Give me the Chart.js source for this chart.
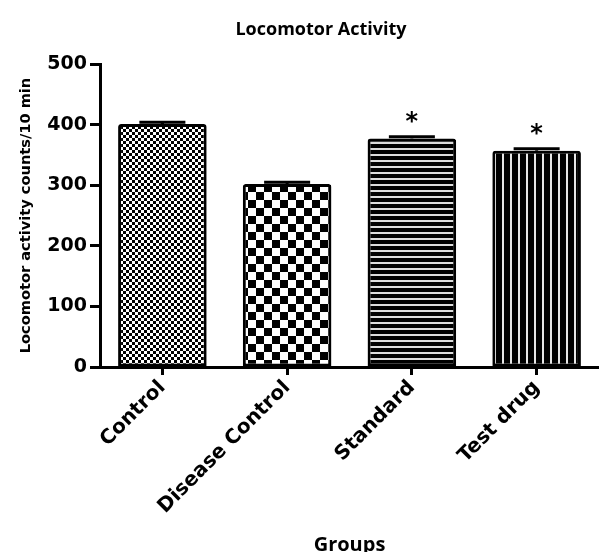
<!DOCTYPE html>
<html>
<head>
<meta charset="utf-8">
<title>Locomotor Activity</title>
<script src="https://cdn.jsdelivr.net/npm/chart.js@4/dist/chart.umd.min.js"></script>
<style>
  html, body { margin: 0; padding: 0; background: #ffffff; }
  #wrap { width: 599px; height: 552px; }
</style>
</head>
<body>
<div id="wrap"><canvas id="chart" width="599" height="552"></canvas></div>
<script>
// Groups and measured locomotor counts (mean ± SEM, counts per 10 min)
const groups = ['Control', 'Disease Control', 'Standard', 'Test drug'];
const meanCounts = [401, 302, 377, 357];
const semCounts = [3, 3, 3, 3];
const significance = ['', '', '*', '*'];
const yTickValues = [0, 100, 200, 300, 400, 500];

// Monochrome fill patterns, one per group
function makePattern(w, h, paint) {
  const tile = document.createElement('canvas');
  tile.width = w; tile.height = h;
  const c = tile.getContext('2d');
  c.fillStyle = '#ffffff';
  c.fillRect(0, 0, w, h);
  c.fillStyle = '#000000';
  paint(c);
  return document.getElementById('chart').getContext('2d').createPattern(tile, 'repeat');
}
const fineChecker = makePattern(6, 6, c => { c.fillRect(0, 0, 3, 3); c.fillRect(3, 3, 3, 3); });
const coarseChecker = makePattern(16, 16, c => { c.fillRect(0, 0, 8, 8); c.fillRect(8, 8, 8, 8); });
const hStripes = makePattern(6, 6, c => { c.fillRect(0, 0, 6, 4); c.fillStyle = '#dcdcdc'; c.fillRect(0, 4, 6, 2); });
const vStripes = makePattern(8, 8, c => { c.fillRect(0, 0, 6, 8); c.fillStyle = '#e6e6e6'; c.fillRect(6, 0, 2, 8); });
const fills = [fineChecker, coarseChecker, hStripes, vStripes];

// Chart heading, drawn above the plot
const headingPlugin = {
  id: 'heading',
  afterDraw(chart) {
    const ctx = chart.ctx;
    ctx.save();
    ctx.fillStyle = '#000000';
    ctx.font = 'bold 18px "Open Sans"';
    ctx.textAlign = 'center';
    ctx.textBaseline = 'middle';
    ctx.fillText('Locomotor Activity', 321, 30);
    ctx.restore();
  }
};

// Upper SEM whisker with a wide cap, plus significance marks above it
const errorBarPlugin = {
  id: 'errorBars',
  afterDatasetsDraw(chart) {
    const ctx = chart.ctx;
    const y = chart.scales.y;
    const meta = chart.getDatasetMeta(0);
    ctx.save();
    ctx.strokeStyle = '#000000';
    ctx.fillStyle = '#000000';
    ctx.lineWidth = 3;
    meta.data.forEach((bar, i) => {
      const yMean = y.getPixelForValue(meanCounts[i]);
      const yTop = y.getPixelForValue(meanCounts[i] + semCounts[i]);
      ctx.beginPath();
      ctx.moveTo(bar.x, yMean);
      ctx.lineTo(bar.x, yTop);
      ctx.moveTo(bar.x - 23, yTop);
      ctx.lineTo(bar.x + 23, yTop);
      ctx.stroke();
      if (significance[i]) {
        ctx.font = 'bold 24px "DejaVu Sans"';
        ctx.textAlign = 'center';
        ctx.textBaseline = 'alphabetic';
        ctx.fillText(significance[i], bar.x, yTop - 8);
      }
    });
    ctx.restore();
  }
};

new Chart(document.getElementById('chart'), {
  type: 'bar',
  data: {
    labels: groups,
    datasets: [{
      data: meanCounts,
      backgroundColor: fills,
      borderColor: '#000000',
      borderWidth: 3,
      borderSkipped: false,
      borderRadius: { topLeft: 3, topRight: 3, bottomLeft: 0, bottomRight: 0 },
      categoryPercentage: 1.0,
      barPercentage: 0.71
    }]
  },
  options: {
    responsive: false,
    animation: false,
    devicePixelRatio: 1,
    layout: { padding: { left: 0, right: 0, top: 64, bottom: 0 } },
    plugins: {
      legend: { display: false },
      tooltip: { enabled: false },
      title: { display: false }
    },
    scales: {
      x: {
        type: 'category',
        offset: true,
        grid: { display: true, drawOnChartArea: false, drawTicks: true, tickLength: 8, tickWidth: 3, tickColor: '#000000', offset: false },
        border: { display: true, color: '#000000', width: 3 },
        ticks: {
          color: '#000000',
          font: { family: '"DejaVu Sans"', weight: 'bold', size: 20 },
          minRotation: 45,
          maxRotation: 45,
          padding: 1,
          autoSkip: false
        },
        title: {
          display: true,
          text: 'Groups',
          color: '#000000',
          font: { family: '"Open Sans"', weight: 'bold', size: 20, lineHeight: 1.0 },
          padding: { top: 0, bottom: -3 }
        },
        afterFit(scale) { scale.height = 185; }
      },
      y: {
        min: 0,
        max: 500,
        afterBuildTicks(scale) { scale.ticks = yTickValues.map(v => ({ value: v })); },
        grid: { display: true, drawOnChartArea: false, drawTicks: true, tickLength: 10, tickWidth: 3, tickColor: '#000000' },
        border: { display: true, color: '#000000', width: 3 },
        ticks: {
          color: '#000000',
          font: { family: '"DejaVu Sans"', weight: 'bold', size: 19 },
          padding: 3
        },
        title: {
          display: true,
          text: 'Locomotor activity counts/10 min',
          color: '#000000',
          font: { family: '"DejaVu Sans"', weight: 'bold', size: 14.6, lineHeight: 1.2 },
          padding: { top: 17, bottom: 0 }
        },
        afterFit(scale) { scale.width = 100; }
      }
    }
  },
  plugins: [errorBarPlugin, headingPlugin]
});
</script>
</body>
</html>
